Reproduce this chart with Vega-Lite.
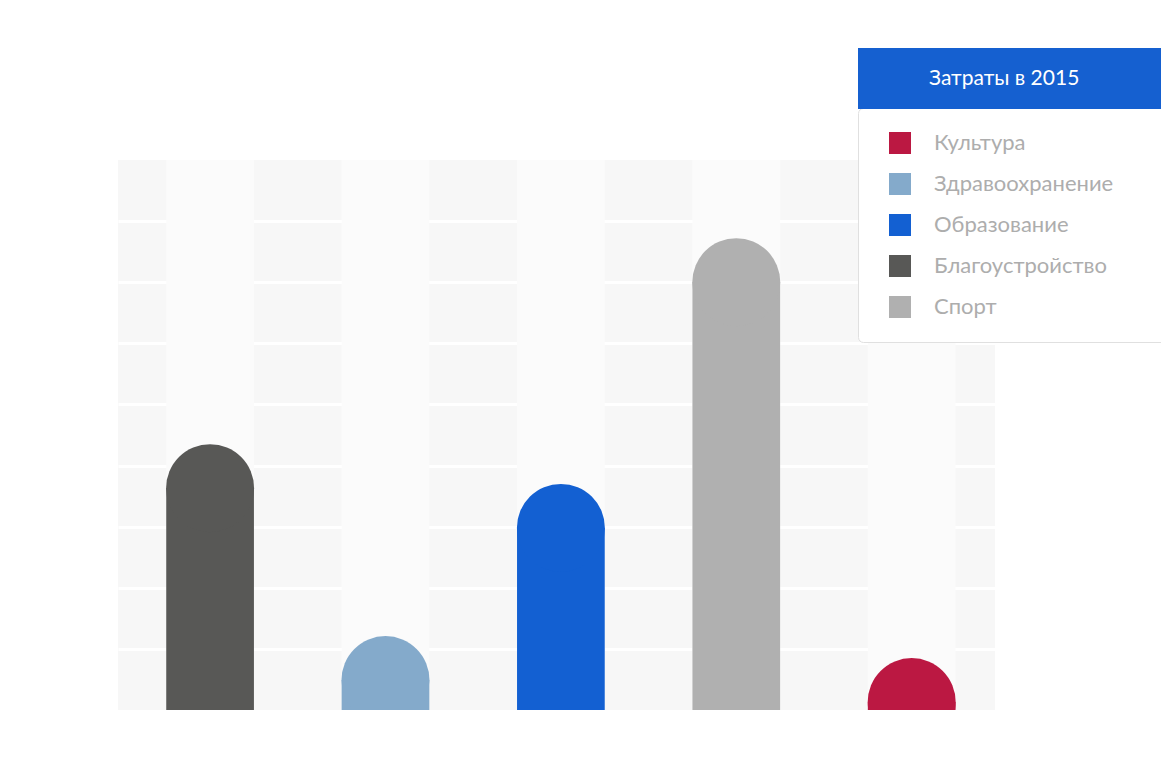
{
  "$schema": "https://vega.github.io/schema/vega-lite/v6.json",
  "autosize": {"type": "none"},
  "width": 877,
  "height": 550,
  "padding": {"left": 118, "top": 160, "right": 166, "bottom": 63},
  "background": "white",
  "config": {
    "font": "Lato",
    "view": {"fill": "#f7f7f7", "stroke": null}
  },
  "data": {
    "values": [
      {"категория": "Благоустройство", "значение": 43.5, "период": "Затраты в 2015"},
      {"категория": "Здравоохранение", "значение": 12.1, "период": "Затраты в 2015"},
      {"категория": "Образование", "значение": 37.0, "период": "Затраты в 2015"},
      {"категория": "Спорт", "значение": 77.2, "период": "Затраты в 2015"},
      {"категория": "Культура", "значение": 8.5, "период": "Затраты в 2015"}
    ]
  },
  "encoding": {
    "x": {
      "field": "категория",
      "type": "nominal",
      "sort": ["Благоустройство", "Здравоохранение", "Образование", "Спорт", "Культура"],
      "scale": {"paddingInner": 0.5, "paddingOuter": 0.25, "align": 0.55},
      "axis": null
    }
  },
  "layer": [
    {
      "mark": {"type": "bar", "color": "#fbfbfb"},
      "encoding": {
        "y": {
          "datum": 90,
          "type": "quantitative",
          "scale": {"domain": [0, 90], "nice": false},
          "axis": {
            "grid": true,
            "gridColor": "#ffffff",
            "gridWidth": 3,
            "values": [10, 20, 30, 40, 50, 60, 70, 80],
            "labels": false,
            "ticks": false,
            "domain": false,
            "title": null
          }
        }
      }
    },
    {
      "mark": {"type": "bar", "yOffset": 44, "clip": true},
      "encoding": {
        "y": {"field": "значение", "type": "quantitative"},
        "color": {
          "field": "категория",
          "type": "nominal",
          "scale": {
            "domain": ["Культура", "Здравоохранение", "Образование", "Благоустройство", "Спорт"],
            "range": ["#bb1842", "#84aacb", "#1360d2", "#585856", "#b0b0b0"]
          },
          "legend": {
            "orient": "none",
            "legendX": 740,
            "legendY": -52,
            "title": null,
            "padding": 24,
            "fillColor": "#ffffff",
            "strokeColor": "#e0e0e0",
            "cornerRadius": 5,
            "symbolType": "M-1,-1H1V1H-1Z M23,0L23,0",
            "symbolSize": 484,
            "symbolStrokeWidth": 0,
            "symbolOpacity": 1,
            "symbolOffset": 7,
            "labelOffset": 23,
            "labelFont": "Lato",
            "labelFontSize": 22,
            "labelColor": "#adadad",
            "labelLimit": 300,
            "rowPadding": 19
          }
        },
        "opacity": {
          "field": "период",
          "type": "nominal",
          "scale": {"range": [1, 1]},
          "legend": {
            "orient": "none",
            "legendX": 740,
            "legendY": -234,
            "title": null,
            "padding": 0,
            "symbolType": "M-1,-0.2H1V0.2H-1Z",
            "symbolSize": 93025,
            "symbolFillColor": "#1560d0",
            "symbolStrokeWidth": 0,
            "symbolOpacity": 1,
            "labelOffset": -234,
            "labelFont": "Lato",
            "labelFontSize": 21,
            "labelColor": "#ffffff",
            "labelLimit": 300
          }
        }
      }
    },
    {
      "mark": {"type": "point", "shape": "circle", "filled": true, "opacity": 1, "size": 7744, "yOffset": 44, "clip": true},
      "encoding": {
        "y": {"field": "значение", "type": "quantitative"},
        "color": {"field": "категория", "type": "nominal"}
      }
    }
  ]
}
